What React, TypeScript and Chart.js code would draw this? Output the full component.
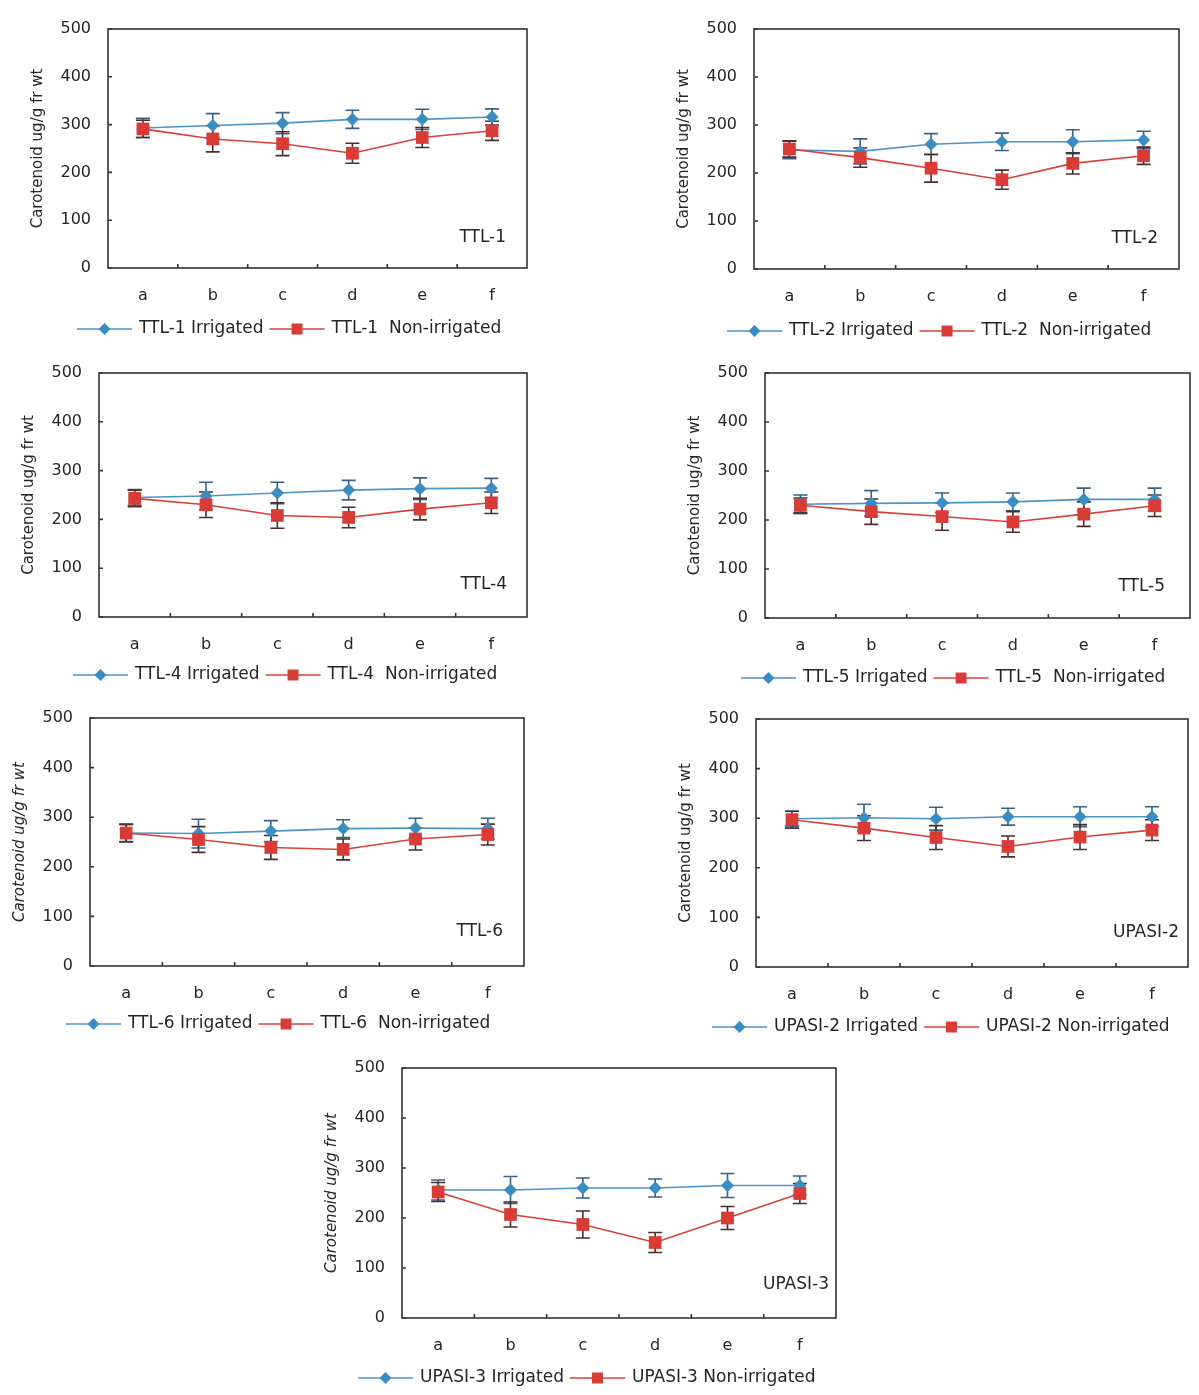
import React, { useEffect, useRef } from 'react';
import { Chart, registerables } from 'chart.js';

Chart.register(...registerables);
Chart.defaults.font.family = '"DejaVu Sans", "Liberation Sans", sans-serif';

// ---------- data ----------
const categories = ['a', 'b', 'c', 'd', 'e', 'f'];
const yMin = 0;
const yMax = 500;
const yStep = 100;
const yAxisTitle = 'Carotenoid ug/g fr wt';

const ttl1Irrigated = [293, 298, 303, 311, 311, 316];
const ttl1IrrigatedErr = [20, 25, 22, 19, 21, 17];
const ttl1NonIrrigated = [291, 270, 260, 240, 273, 287];
const ttl1NonIrrigatedErr = [18, 27, 25, 21, 21, 20];

const ttl2Irrigated = [248, 245, 260, 265, 265, 269];
const ttl2IrrigatedErr = [18, 26, 22, 18, 25, 18];
const ttl2NonIrrigated = [250, 232, 210, 186, 220, 236];
const ttl2NonIrrigatedErr = [17, 20, 29, 20, 22, 18];

const ttl4Irrigated = [245, 248, 254, 260, 263, 264];
const ttl4IrrigatedErr = [16, 28, 22, 20, 22, 20];
const ttl4NonIrrigated = [243, 230, 208, 204, 221, 234];
const ttl4NonIrrigatedErr = [17, 26, 26, 21, 22, 22];

const ttl5Irrigated = [232, 234, 235, 237, 242, 242];
const ttl5IrrigatedErr = [19, 26, 20, 18, 23, 23];
const ttl5NonIrrigated = [230, 217, 207, 196, 212, 229];
const ttl5NonIrrigatedErr = [15, 26, 28, 21, 25, 22];

const ttl6Irrigated = [268, 267, 272, 277, 278, 277];
const ttl6IrrigatedErr = [17, 29, 21, 18, 20, 21];
const ttl6NonIrrigated = [268, 255, 239, 235, 256, 265];
const ttl6NonIrrigatedErr = [18, 26, 24, 21, 22, 21];

const upasi2Irrigated = [299, 301, 299, 303, 303, 303];
const upasi2IrrigatedErr = [15, 27, 23, 17, 20, 20];
const upasi2NonIrrigated = [297, 280, 261, 243, 262, 276];
const upasi2NonIrrigatedErr = [17, 25, 24, 21, 25, 21];

const upasi3Irrigated = [256, 256, 260, 260, 265, 265];
const upasi3IrrigatedErr = [20, 27, 20, 18, 24, 19];
const upasi3NonIrrigated = [252, 207, 187, 151, 200, 249];
const upasi3NonIrrigatedErr = [19, 25, 27, 20, 23, 20];

// ---------- styles / layout ----------
const BLUE_LINE = '#4d94c8';
const BLUE_FILL = '#3a8cc2';
const BLUE_ERR = '#3b6282';
const RED_LINE = '#d8403a';
const RED_FILL = '#d93b36';
const RED_ERR = '#4a2f2e';
const TEXT = '#262626';
const FRAME = '#333333';

const panels = [
  { name: 'TTL-1', irrLabel: 'TTL-1 Irrigated', nonLabel: 'TTL-1  Non-irrigated', irr: ttl1Irrigated, irrErr: ttl1IrrigatedErr, non: ttl1NonIrrigated, nonErr: ttl1NonIrrigatedErr, left: 108, right: 527, top: 29, bottom: 268, legendX: 77, legendY: 329, italic: false, labelInset: 21, labelUp: 30 },
  { name: 'TTL-2', irrLabel: 'TTL-2 Irrigated', nonLabel: 'TTL-2  Non-irrigated', irr: ttl2Irrigated, irrErr: ttl2IrrigatedErr, non: ttl2NonIrrigated, nonErr: ttl2NonIrrigatedErr, left: 754, right: 1179, top: 29, bottom: 269, legendX: 727, legendY: 331, italic: false, labelInset: 21, labelUp: 30 },
  { name: 'TTL-4', irrLabel: 'TTL-4 Irrigated', nonLabel: 'TTL-4  Non-irrigated', irr: ttl4Irrigated, irrErr: ttl4IrrigatedErr, non: ttl4NonIrrigated, nonErr: ttl4NonIrrigatedErr, left: 99, right: 527, top: 373, bottom: 617, legendX: 73, legendY: 675, italic: false, labelInset: 20, labelUp: 32 },
  { name: 'TTL-5', irrLabel: 'TTL-5 Irrigated', nonLabel: 'TTL-5  Non-irrigated', irr: ttl5Irrigated, irrErr: ttl5IrrigatedErr, non: ttl5NonIrrigated, nonErr: ttl5NonIrrigatedErr, left: 765, right: 1190, top: 373, bottom: 618, legendX: 741, legendY: 678, italic: false, labelInset: 25, labelUp: 31 },
  { name: 'TTL-6', irrLabel: 'TTL-6 Irrigated', nonLabel: 'TTL-6  Non-irrigated', irr: ttl6Irrigated, irrErr: ttl6IrrigatedErr, non: ttl6NonIrrigated, nonErr: ttl6NonIrrigatedErr, left: 90, right: 524, top: 718, bottom: 966, legendX: 66, legendY: 1024, italic: true, labelInset: 21, labelUp: 34 },
  { name: 'UPASI-2', irrLabel: 'UPASI-2 Irrigated', nonLabel: 'UPASI-2 Non-irrigated', irr: upasi2Irrigated, irrErr: upasi2IrrigatedErr, non: upasi2NonIrrigated, nonErr: upasi2NonIrrigatedErr, left: 756, right: 1188, top: 719, bottom: 967, legendX: 712, legendY: 1027, italic: false, labelInset: 9, labelUp: 34 },
  { name: 'UPASI-3', irrLabel: 'UPASI-3 Irrigated', nonLabel: 'UPASI-3 Non-irrigated', irr: upasi3Irrigated, irrErr: upasi3IrrigatedErr, non: upasi3NonIrrigated, nonErr: upasi3NonIrrigatedErr, left: 402, right: 836, top: 1068, bottom: 1318, legendX: 358, legendY: 1378, italic: true, labelInset: 7, labelUp: 33 },
];

const Y_AXIS_W = 95;
const X_AXIS_H = 40;
const CANVAS_TOP_GAP = 30; // must exceed the y-axis top label overflow (half label + tick padding)
const PAD_RIGHT = 15;

function drawMarker(ctx: CanvasRenderingContext2D, kind: string, x: number, y: number, r: number, fill: string) {
  ctx.save();
  ctx.fillStyle = fill;
  ctx.beginPath();
  if (kind === 'diamond') {
    ctx.moveTo(x, y - r);
    ctx.lineTo(x + r, y);
    ctx.lineTo(x, y + r);
    ctx.lineTo(x - r, y);
    ctx.closePath();
  } else {
    ctx.rect(x - r, y - r, 2 * r, 2 * r);
  }
  ctx.fill();
  ctx.restore();
}

function PanelChart({ p }: { p: any }) {
  const ref = useRef<HTMLCanvasElement>(null);
  const canvasLeft = p.left - Y_AXIS_W;
  const canvasTop = p.top - CANVAS_TOP_GAP;
  const w = p.right - p.left + Y_AXIS_W + PAD_RIGHT;
  const h = p.legendY + 14 - canvasTop;
  const padBottom = h - CANVAS_TOP_GAP - (p.bottom - p.top) - X_AXIS_H;

  useEffect(() => {
    if (!ref.current) return;
    const errors = [p.irrErr, p.nonErr];
    const errColors = [BLUE_ERR, RED_ERR];

    const custom = {
      id: 'panelDecor' + p.name,
      beforeDatasetsDraw(chart: any) {
        const ctx = chart.ctx;
        const xs = chart.scales.x;
        const ys = chart.scales.y;
        chart.data.datasets.forEach((ds: any, di: number) => {
          const errs = errors[di];
          ctx.save();
          ctx.strokeStyle = errColors[di];
          ctx.lineWidth = 1.6;
          ds.data.forEach((v: number, i: number) => {
            const x = xs.getPixelForValue(i);
            const yTop = ys.getPixelForValue(v + errs[i]);
            const yBot = ys.getPixelForValue(v - errs[i]);
            ctx.beginPath();
            ctx.moveTo(x, yTop);
            ctx.lineTo(x, yBot);
            ctx.moveTo(x - 7, yTop);
            ctx.lineTo(x + 7, yTop);
            ctx.moveTo(x - 7, yBot);
            ctx.lineTo(x + 7, yBot);
            ctx.stroke();
          });
          ctx.restore();
        });
      },
      afterDraw(chart: any) {
        const ctx = chart.ctx;
        const a = chart.chartArea;
        const xs = chart.scales.x;
        const ys = chart.scales.y;
        ctx.save();
        ctx.strokeStyle = FRAME;
        ctx.lineWidth = 1.6;
        ctx.strokeRect(a.left, a.top, a.right - a.left, a.bottom - a.top);
        ctx.beginPath();
        for (let v = yMin; v <= yMax; v += yStep) {
          const y = ys.getPixelForValue(v);
          ctx.moveTo(a.left, y);
          ctx.lineTo(a.left + 4, y);
        }
        for (let i = 0; i < categories.length - 1; i++) {
          const x = (xs.getPixelForValue(i) + xs.getPixelForValue(i + 1)) / 2;
          ctx.moveTo(x, a.bottom);
          ctx.lineTo(x, a.bottom - 4);
        }
        ctx.stroke();
        ctx.fillStyle = TEXT;
        ctx.font = '17px "DejaVu Sans"';
        ctx.textAlign = 'right';
        ctx.textBaseline = 'middle';
        ctx.fillText(p.name, a.right - p.labelInset, a.bottom - p.labelUp);
        const ly = p.legendY - canvasTop;
        let lx = p.legendX - canvasLeft;
        const items = [
          { label: p.irrLabel, line: BLUE_LINE, fill: BLUE_FILL, kind: 'diamond', r: 6 },
          { label: p.nonLabel, line: RED_LINE, fill: RED_FILL, kind: 'square', r: 5.5 },
        ];
        ctx.textAlign = 'left';
        items.forEach((it) => {
          const len = 55;
          ctx.strokeStyle = it.line;
          ctx.lineWidth = 1.6;
          ctx.beginPath();
          ctx.moveTo(lx, ly);
          ctx.lineTo(lx + len, ly);
          ctx.stroke();
          drawMarker(ctx, it.kind, lx + len / 2, ly, it.r, it.fill);
          const tx = lx + len + 7;
          ctx.fillStyle = TEXT;
          ctx.fillText(it.label, tx, ly);
          lx = tx + ctx.measureText(it.label).width + 6;
        });
        ctx.restore();
      },
    };

    const chart = new Chart(ref.current, {
      type: 'line',
      data: {
        labels: categories,
        datasets: [
          {
            label: p.irrLabel,
            data: p.irr,
            borderColor: BLUE_LINE,
            backgroundColor: BLUE_FILL,
            borderWidth: 1.6,
            pointStyle: 'rectRot',
            pointRadius: 6.5,
            pointBorderWidth: 0,
            pointBackgroundColor: BLUE_FILL,
            tension: 0,
            order: 1,
          },
          {
            label: p.nonLabel,
            data: p.non,
            borderColor: RED_LINE,
            backgroundColor: RED_FILL,
            borderWidth: 1.6,
            pointStyle: 'rect',
            pointRadius: 9,
            pointBorderWidth: 0,
            pointBackgroundColor: RED_FILL,
            tension: 0,
            order: 0,
          },
        ],
      },
      options: {
        responsive: false,
        animation: false,
        devicePixelRatio: 1,
        layout: { padding: { left: 0, right: PAD_RIGHT, top: CANVAS_TOP_GAP, bottom: padBottom } },
        plugins: { legend: { display: false }, tooltip: { enabled: false } },
        scales: {
          x: {
            type: 'category',
            offset: true,
            grid: { display: false, drawTicks: false },
            border: { display: false },
            ticks: { color: TEXT, font: { size: 16 }, padding: 18, maxRotation: 0 },
            afterFit: (s: any) => { s.height = X_AXIS_H; },
          },
          y: {
            min: yMin,
            max: yMax,
            grid: { display: false, drawTicks: false },
            border: { display: false },
            ticks: { stepSize: yStep, color: TEXT, font: { size: 16 }, padding: 17 },
            title: {
              display: true,
              text: yAxisTitle,
              color: TEXT,
              font: { size: 15, style: p.italic ? 'italic' : 'normal' },
              padding: { top: 16, bottom: 0 },
            },
            afterFit: (s: any) => { s.width = Y_AXIS_W; },
          },
        },
      },
      plugins: [custom],
    } as any);
    return () => chart.destroy();
  }, []);

  return (
    <canvas
      ref={ref}
      width={w}
      height={h}
      style={{ position: 'absolute', left: canvasLeft, top: canvasTop, width: w, height: h }}
    />
  );
}

export default function App() {
  return (
    <div style={{ position: 'absolute', left: 0, top: 0, width: 1199, height: 1395, background: '#ffffff' }}>
      {panels.map((p) => (
        <PanelChart key={p.name} p={p} />
      ))}
    </div>
  );
}
